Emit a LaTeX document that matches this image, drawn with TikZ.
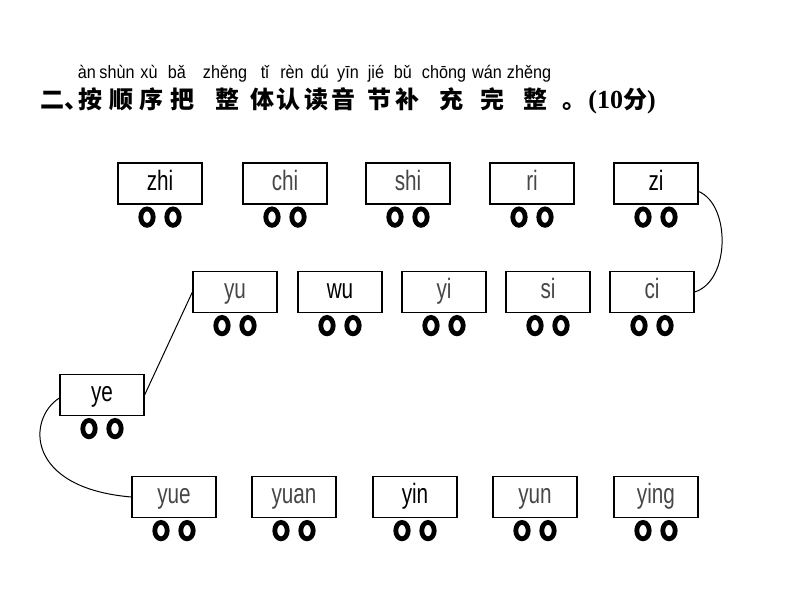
\documentclass[tikz,border=0pt]{standalone}
\usepackage{fontspec}
\setmainfont{Liberation Sans}
\newfontfamily\carfont[FakeStretch=0.74]{Liberation Sans}
\newfontfamily\pyfont[FakeStretch=0.9]{Liberation Sans}
\newfontfamily\cjk{Noto Sans CJK SC}
\newfontfamily\numfont{Liberation Serif}

\begin{document}
\begin{tikzpicture}[x=0.5pt,y=-0.5pt,
	car/.style={draw, line width=0.6pt, minimum width=42pt, minimum height=20.5pt, inner ysep=3.5pt, text height=10pt, text depth=3.5pt, font=\carfont\fontsize{14}{14}\selectfont, text=black!72},
	given/.style={car, text=black},
	wheel/.style={line width=2.4pt},
	link/.style={line width=0.5pt},
	pinyin/.style={inner sep=0pt, anchor=base, font=\pyfont\fontsize{9}{9}\selectfont},
	hanzi/.style={inner sep=0pt, anchor=base, font=\cjk\bfseries\fontsize{12}{12}\selectfont}]

	\useasboundingbox (0,0) rectangle (800,600);

	\foreach \py/\x in {àn/87, shùn/117, xù/149, bǎ/177, zhěng/225, tǐ/265, rèn/292, dú/320, yīn/348, jié/376, bǔ/403, chōng/444, wán/487, zhěng/529}
		\node[pinyin] (py\x) at (\x,78) {\py};

	\node[hanzi, anchor=base west] (er) at (40,108) {二、};
	\foreach \hz/\x in {按/90, 顺/121, 序/152, 把/182, 整/227, 体/262, 认/289, 读/316, 音/343, 节/379, 补/407, 充/451, 完/492, 整/535, 。/574}
		\node[hanzi] (hz\x) at (\x,108) {\hz};
	\node[hanzi, anchor=base west] (score) at (588,108) {{\numfont\bfseries\fontsize{13}{13}\selectfont(10}分{\numfont\bfseries\fontsize{13}{13}\selectfont)}};

	\node[given] (zhi) at (160,183.5) {zhi};
	\node[car] (chi) at (285,183.5) {chi};
	\node[car] (shi) at (408,183.5) {shi};
	\node[car] (ri) at (532,183.5) {ri};
	\node[given] (zi) at (656,183.5) {zi};

	\node[car] (yu) at (235,292) {yu};
	\node[given] (wu) at (340,292) {wu};
	\node[car] (yi) at (444,292) {yi};
	\node[car] (si) at (548,292) {si};
	\node[car] (ci) at (652,292) {ci};

	\node[given] (ye) at (102,395) {ye};

	\node[car] (yue) at (174,497) {yue};
	\node[car] (yuan) at (294,497) {yuan};
	\node[given] (yin) at (415,497) {yin};
	\node[car] (yun) at (535,497) {yun};
	\node[car] (ying) at (656,497) {ying};

	\foreach \n in {zhi,chi,shi,ri,zi,yu,wu,yi,si,ci,ye,yue,yuan,yin,yun,ying} {
		\draw[wheel] ([shift={(-13,12.5)}]\n.south) ellipse [x radius=3.1pt, y radius=4.1pt];
		\draw[wheel] ([shift={(13,12.5)}]\n.south) ellipse [x radius=3.1pt, y radius=4.1pt];
	}

	\draw[link] ([yshift=-4pt]zi.east) .. controls +(32,13) and +(36,-11) .. (ci.east);
	\draw[link] (yu.west) -- (ye.east);
	\draw[link] ([yshift=-1.5pt]ye.west) .. controls +(-32,20) and +(-107,-9) .. (yue.west);

\end{tikzpicture}
\end{document}
